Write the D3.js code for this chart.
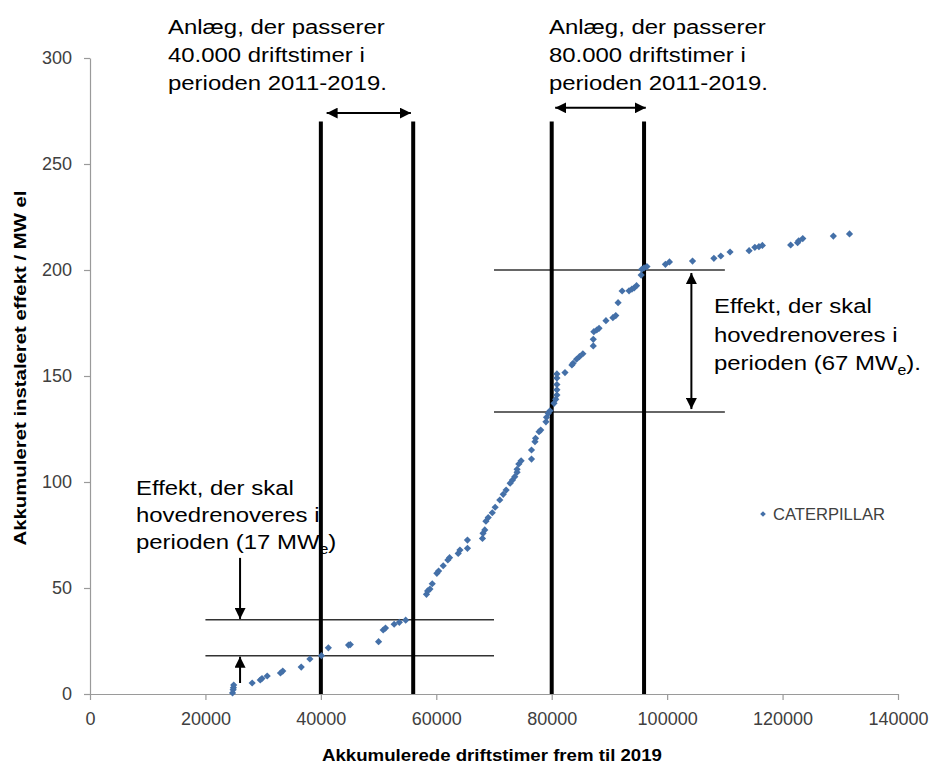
<!DOCTYPE html>
<html>
<head>
<meta charset="utf-8">
<script src="https://cdn.jsdelivr.net/npm/d3@7"></script>
<style>
  body { margin: 0; background: #fff; }
  svg { display: block; }
</style>
</head>
<body>
<svg id="chart" width="933" height="764"></svg>
<script>
// Accumulated operating hours per plant (x) and accumulated installed capacity, MW el (y)
const hours = [
  24700, 24800, 24850, 24900, 28100, 29500, 29800, 30700, 33000, 33400,
  36600, 38100, 40100, 41300, 44800, 45100, 50000, 50800, 51200, 52700,
  53600, 54700, 58300, 58500, 58900, 59300, 60100, 60400, 61200, 62000,
  62300, 63800, 64100, 65400, 65400, 68000, 68100, 68400, 68600, 69000,
  69700, 70200, 71000, 71600, 72100, 72800, 73200, 73600, 74000, 74000,
  74300, 74700, 76500, 76500, 77100, 77200, 77800, 78100, 79000, 79100,
  79400, 79700, 80400, 80700, 80900, 80900, 80900, 80900, 80900, 82300,
  83500, 83700, 84300, 84800, 85400, 87200, 87200, 87300, 87800, 88200,
  89400, 90600, 91100, 91500, 92200, 93400, 93900, 94300, 94700, 95500,
  95600, 96000, 96500, 99700, 100400, 104400, 108100, 109300, 110900, 114200,
  115200, 115900, 116500, 121400, 122600, 122800, 123500, 128800, 131600
];
const capacity = [
  0.5, 2, 3, 4.2, 5.2, 6.6, 7.3, 8.5, 9.9, 10.8,
  12.7, 16.5, 18.1, 21.8, 23.1, 23.3, 24.7, 30.2, 31.1, 32.9,
  33.8, 34.8, 47, 48.6, 49.5, 52, 56.9, 58, 60.5, 63.2,
  64.3, 66.3, 67.9, 68.7, 72.6, 73.4, 75.8, 77.4, 81.5, 83.2,
  85.5, 88.1, 91.5, 94.2, 96.2, 99.4, 100.9, 102.5, 104.6, 106,
  108.5, 110, 110.8, 115.1, 119, 120.6, 123.7, 124.5, 128.4, 130.5,
  132.4, 133.6, 137.1, 139, 141, 143.5, 146, 149, 151, 151.6,
  155.2, 156, 157.9, 159.1, 160.5, 164.2, 167.3, 170.9, 171.7, 172.5,
  176.1, 177.5, 178.5, 184.6, 190.1, 190.2, 191, 191.6, 192.6, 197.6,
  200.3, 201, 201.6, 202.7, 203.8, 204.2, 205.5, 206.6, 208.5, 209.1,
  210.7, 211, 211.6, 211.8, 212.9, 213.8, 214.8, 216, 217
];

const seriesName = "CATERPILLAR";
const xTickValues = [0, 20000, 40000, 60000, 80000, 100000, 120000, 140000];
const yTickValues = [0, 50, 100, 150, 200, 250, 300];
const xTitle = "Akkumulerede driftstimer frem til 2019";
const yTitle = "Akkumuleret instaleret effekt / MW el";

// Hour thresholds: plants passing 40.000 and 80.000 hours during 2011-2019
const hourMarks = [40000, 56000, 80000, 96000];
const hourMarkTop = 270;

// Capacity levels bounding the plants to be overhauled
const lowBand = { from: 20000, to: 70000, levels: [18, 35] };
const highBand = { from: 70000, to: 110000, levels: [133, 200] };

// Annotation texts
const topLeftText = ["Anlæg, der passerer", "40.000 driftstimer i", "perioden 2011-2019."];
const topRightText = ["Anlæg, der passerer", "80.000 driftstimer i", "perioden 2011-2019."];
const rightEffectText = ["Effekt, der skal", "hovedrenoveres i", "perioden (67 MW", "e", ")."];
const leftEffectText = ["Effekt, der skal", "hovedrenoveres i", "perioden (17 MW", "e", ")"];

const svg = d3.select("#chart");
const x = d3.scaleLinear().domain([0, 140000]).range([90, 898]);
const y = d3.scaleLinear().domain([0, 300]).range([694, 58]);

const axisColor = "#9a9a9a";
const tickFont = "'Liberation Sans', Arial, sans-serif";

// Arrowhead marker
svg.append("defs").append("marker")
  .attr("id", "head")
  .attr("viewBox", "0 0 10 10")
  .attr("refX", 10).attr("refY", 5)
  .attr("markerWidth", 11).attr("markerHeight", 11)
  .attr("markerUnits", "userSpaceOnUse")
  .attr("orient", "auto-start-reverse")
  .append("path").attr("d", "M0,0 L10,5 L0,10 Z").attr("fill", "#000");

// Axes
const xAxis = svg.append("g").attr("transform", `translate(0,${y(0)})`)
  .call(d3.axisBottom(x).tickValues(xTickValues).tickSize(6).tickSizeOuter(0)
    .tickPadding(12.5).tickFormat(d3.format("d")));
const yAxis = svg.append("g").attr("transform", `translate(${x(0)},0)`)
  .call(d3.axisLeft(y).tickValues(yTickValues).tickSize(6).tickSizeOuter(0)
    .tickPadding(12).tickFormat(d3.format("d")));
[xAxis, yAxis].forEach(g => {
  g.select(".domain").attr("stroke", axisColor).attr("stroke-width", 1.2);
  g.selectAll(".tick line").attr("stroke", axisColor).attr("stroke-width", 1.2);
  g.selectAll(".tick text").attr("fill", "#404040")
    .style("font-family", tickFont).style("font-size", "18px");
});

// Axis titles
svg.append("text")
  .attr("x", 492).attr("y", 761)
  .attr("text-anchor", "middle")
  .attr("textLength", 340).attr("lengthAdjust", "spacingAndGlyphs")
  .style("font-family", tickFont).style("font-weight", "bold").style("font-size", "17px")
  .attr("fill", "#000")
  .text(xTitle);
svg.append("text")
  .attr("transform", "translate(26,368) rotate(-90)")
  .attr("text-anchor", "middle")
  .attr("textLength", 355).attr("lengthAdjust", "spacingAndGlyphs")
  .style("font-family", tickFont).style("font-weight", "bold").style("font-size", "17px")
  .attr("fill", "#000")
  .text(yTitle);

// Annotation text blocks
const noteFont = "'Liberation Sans', Arial, sans-serif";
function noteBlock(lines, x0, baselines, sub) {
  lines.slice(0, 3).forEach((line, i) => {
    const t = svg.append("text")
      .attr("transform", `translate(${x0},${baselines[i]}) scale(1.14,1)`)
      .style("font-family", noteFont).style("font-size", "21px").attr("fill", "#000");
    if (sub && i === 2) {
      t.append("tspan").text(line);
      t.append("tspan").attr("dy", 5).style("font-size", "14px").text(lines[3]);
      t.append("tspan").attr("dy", -5).text(lines[4]);
    } else {
      t.text(line);
    }
  });
}
noteBlock(topLeftText, 168, [34, 62, 90], false);
noteBlock(topRightText, 549, [34, 62, 90], false);
noteBlock(rightEffectText, 714, [313, 341.5, 370], true);
noteBlock(leftEffectText, 136, [495, 522, 549], true);

// Horizontal capacity levels
[lowBand, highBand].forEach(b => {
  svg.selectAll(null).data(b.levels).enter().append("line")
    .attr("x1", x(b.from)).attr("x2", x(b.to))
    .attr("y1", d => y(d)).attr("y2", d => y(d))
    .attr("stroke", "#333").attr("stroke-width", 1.5);
});

// Vertical hour thresholds
svg.selectAll(null).data(hourMarks).enter().append("line")
  .attr("x1", d => x(d)).attr("x2", d => x(d))
  .attr("y1", y(hourMarkTop)).attr("y2", y(0))
  .attr("stroke", "#000").attr("stroke-width", 4);

// Arrows
function arrow(x1, y1, x2, y2, both) {
  const l = svg.append("line")
    .attr("x1", x(x1)).attr("y1", y(y1)).attr("x2", x(x2)).attr("y2", y(y2))
    .attr("stroke", "#000").attr("stroke-width", 2)
    .attr("marker-end", "url(#head)");
  if (both) l.attr("marker-start", "url(#head)");
}
arrow(41000, 274, 55600, 274, true);
arrow(80600, 276.5, 96300, 276.5, true);
arrow(104200, 198.6, 104200, 134.4, true);
arrow(26000, 64.2, 26000, 35.4, false);
arrow(26000, 5.2, 26000, 17.6, false);

// Data points
const pts = hours.map((h, i) => [h, capacity[i]]);
const diamond = "M0,-3.6 L3.6,0 L0,3.6 L-3.6,0 Z";
const pointColor = "#4470a8";
svg.append("g").selectAll("path").data(pts).enter().append("path")
  .attr("d", diamond)
  .attr("transform", d => `translate(${x(d[0])},${y(d[1])})`)
  .attr("fill", pointColor);

// Legend
svg.append("path").attr("d", "M0,-2.8 L2.8,0 L0,2.8 L-2.8,0 Z")
  .attr("transform", "translate(763,514)").attr("fill", pointColor);
svg.append("text").attr("x", 773).attr("y", 520)
  .style("font-family", tickFont).style("font-size", "17px")
  .attr("textLength", 112).attr("lengthAdjust", "spacingAndGlyphs")
  .attr("fill", "#404040").text(seriesName);
</script>
</body>
</html>
